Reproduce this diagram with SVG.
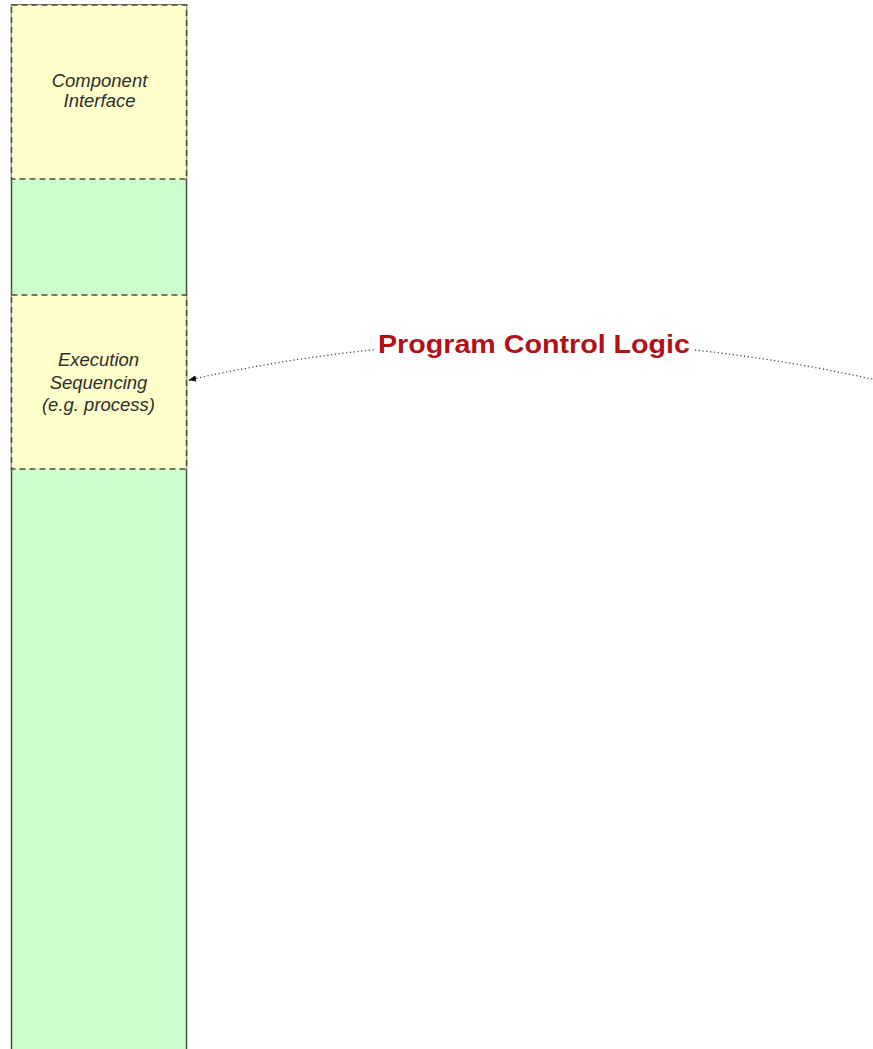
<svg xmlns="http://www.w3.org/2000/svg" width="873" height="1049" viewBox="0 0 873 1049">
  <style>
    .column { fill: #ccffcc; stroke: #4d4d40; stroke-width: 1.5; }
    .section { fill: #ffffcc; stroke: #4d4d40; stroke-width: 1.5; stroke-dasharray: 6 4; }
    .label { font-family: "Liberation Sans", Arial, sans-serif; font-style: italic; font-size: 18.5px; fill: #2e2e2e; text-anchor: middle; }
    .flow { fill: none; stroke: #444444; stroke-width: 1.3; stroke-dasharray: 1.2 2.6; }
    .flow-label { font-family: "Liberation Sans", Arial, sans-serif; font-weight: bold; font-size: 26px; fill: #b01218; text-anchor: middle; }
  </style>
  <defs>
    <marker id="arrow" viewBox="0 0 10 10" refX="9" refY="5" markerWidth="8" markerHeight="8" orient="auto-start-reverse" markerUnits="userSpaceOnUse">
      <path d="M0,1 L10,5 L0,9 z" fill="#111111"/>
    </marker>
  </defs>
  <rect width="873" height="1049" fill="#ffffff"/>

  <g id="column">
    <rect class="column" x="11.5" y="5" width="175" height="1060"/>
  </g>

  <g id="component-interface">
    <rect class="section" x="11.5" y="5" width="175" height="174"/>
    <text class="label" x="99.5" y="87">Component</text>
    <text class="label" x="99.5" y="107">Interface</text>
  </g>

  <g id="execution-sequencing">
    <rect class="section" x="11.5" y="295" width="175" height="174"/>
    <text class="label" x="98.5" y="366">Execution</text>
    <text class="label" x="98.5" y="389">Sequencing</text>
    <text class="label" x="98.5" y="411">(e.g. process)</text>
  </g>

  <g id="connectors">
    <path class="flow" d="M876,380 Q533,303 189,380" marker-end="url(#arrow)"/>
    <rect x="374" y="326" width="320" height="36" fill="#ffffff"/>
    <text class="flow-label" x="534" y="353" textLength="312" lengthAdjust="spacingAndGlyphs">Program Control Logic</text>
  </g>
</svg>
